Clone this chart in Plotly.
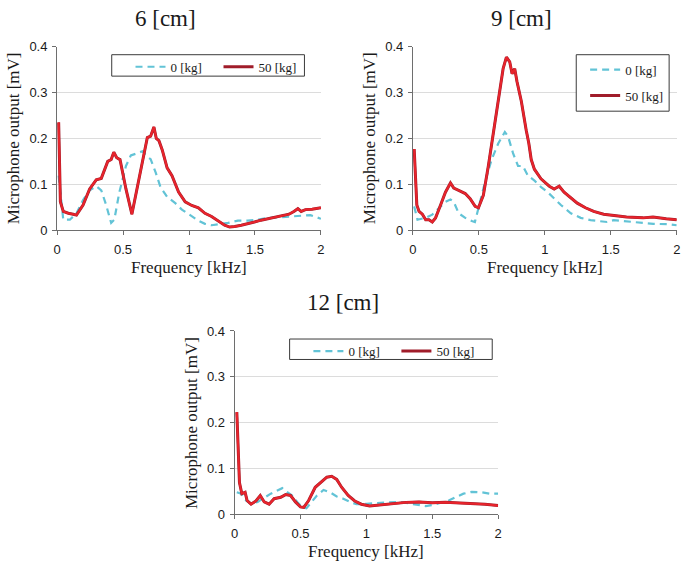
import plotly.graph_objects as go

W, H = 685, 570

# ---------------- data ----------------
titles = ["6 [cm]", "9 [cm]", "12 [cm]"]
legend_names = ["0 [kg]", "50 [kg]"]
x_title = "Frequency [kHz]"
y_title = "Microphone output [mV]"

f6_0 = [0.012, 0.047, 0.097, 0.147, 0.197, 0.247, 0.297, 0.335, 0.372, 0.41, 0.434, 0.472, 0.522, 0.559, 0.609, 0.647, 0.684, 0.709, 0.747, 0.784, 0.834, 0.896, 0.946, 1.009, 1.071, 1.121, 1.171, 1.221, 1.296, 1.371, 1.446, 1.52, 1.596, 1.67, 1.77, 1.87, 1.92, 2.0]
v6_0 = [0.119, 0.023, 0.023, 0.037, 0.066, 0.087, 0.096, 0.087, 0.055, 0.016, 0.023, 0.083, 0.140, 0.163, 0.168, 0.172, 0.160, 0.155, 0.126, 0.094, 0.073, 0.059, 0.045, 0.032, 0.021, 0.014, 0.011, 0.013, 0.016, 0.021, 0.021, 0.023, 0.027, 0.028, 0.030, 0.032, 0.033, 0.025]

f6_50 = [0.012, 0.025, 0.047, 0.085, 0.122, 0.147, 0.197, 0.247, 0.297, 0.335, 0.384, 0.41, 0.43, 0.452, 0.477, 0.522, 0.567, 0.609, 0.647, 0.684, 0.709, 0.734, 0.752, 0.772, 0.797, 0.834, 0.871, 0.921, 0.971, 1.021, 1.071, 1.121, 1.171, 1.221, 1.27, 1.308, 1.346, 1.396, 1.446, 1.496, 1.546, 1.596, 1.645, 1.695, 1.758, 1.795, 1.825, 1.85, 1.883, 1.933, 2.0]
v6_50 = [0.235, 0.062, 0.041, 0.037, 0.035, 0.033, 0.055, 0.090, 0.110, 0.113, 0.150, 0.154, 0.170, 0.158, 0.154, 0.090, 0.035, 0.098, 0.154, 0.202, 0.205, 0.225, 0.200, 0.195, 0.175, 0.136, 0.119, 0.083, 0.062, 0.054, 0.049, 0.037, 0.030, 0.021, 0.011, 0.007, 0.008, 0.011, 0.014, 0.018, 0.022, 0.025, 0.028, 0.032, 0.035, 0.041, 0.047, 0.041, 0.045, 0.046, 0.049]

f9_0 = [0.01, 0.035, 0.097, 0.147, 0.197, 0.247, 0.285, 0.31, 0.347, 0.397, 0.447, 0.47, 0.497, 0.547, 0.597, 0.647, 0.697, 0.722, 0.759, 0.797, 0.834, 0.872, 0.922, 0.972, 1.022, 1.072, 1.122, 1.197, 1.272, 1.347, 1.422, 1.472, 1.522, 1.597, 1.697, 1.822, 1.947, 2.0]
v9_0 = [0.052, 0.023, 0.027, 0.034, 0.048, 0.062, 0.067, 0.062, 0.037, 0.027, 0.020, 0.018, 0.048, 0.105, 0.154, 0.189, 0.214, 0.204, 0.168, 0.140, 0.140, 0.119, 0.108, 0.094, 0.083, 0.069, 0.055, 0.037, 0.027, 0.022, 0.020, 0.018, 0.022, 0.020, 0.016, 0.014, 0.013, 0.011]

f9_50 = [0.01, 0.03, 0.047, 0.072, 0.097, 0.122, 0.147, 0.172, 0.21, 0.247, 0.285, 0.31, 0.347, 0.397, 0.434, 0.472, 0.497, 0.534, 0.572, 0.609, 0.647, 0.684, 0.709, 0.734, 0.752, 0.772, 0.789, 0.822, 0.859, 0.879, 0.897, 0.921, 0.971, 1.034, 1.071, 1.109, 1.146, 1.196, 1.246, 1.308, 1.371, 1.446, 1.52, 1.62, 1.745, 1.82, 1.92, 2.0]
v9_50 = [0.177, 0.055, 0.041, 0.035, 0.023, 0.023, 0.018, 0.027, 0.055, 0.083, 0.103, 0.092, 0.087, 0.080, 0.069, 0.052, 0.049, 0.076, 0.140, 0.211, 0.281, 0.352, 0.377, 0.367, 0.341, 0.352, 0.324, 0.281, 0.218, 0.189, 0.154, 0.133, 0.112, 0.096, 0.090, 0.096, 0.083, 0.071, 0.059, 0.049, 0.041, 0.035, 0.032, 0.029, 0.027, 0.029, 0.025, 0.023]

f12_0 = [0.017, 0.05, 0.087, 0.125, 0.175, 0.225, 0.275, 0.325, 0.362, 0.4, 0.437, 0.475, 0.512, 0.545, 0.575, 0.625, 0.675, 0.725, 0.775, 0.825, 0.875, 0.925, 1.0, 1.075, 1.15, 1.25, 1.35, 1.45, 1.5, 1.562, 1.625, 1.675, 1.737, 1.8, 1.875, 1.937, 2.0]
v12_0 = [0.048, 0.045, 0.030, 0.023, 0.027, 0.037, 0.045, 0.052, 0.057, 0.048, 0.041, 0.027, 0.016, 0.013, 0.023, 0.041, 0.053, 0.048, 0.039, 0.034, 0.027, 0.022, 0.023, 0.025, 0.026, 0.027, 0.022, 0.018, 0.020, 0.025, 0.030, 0.037, 0.045, 0.049, 0.048, 0.045, 0.045]

f12_50 = [0.017, 0.03, 0.037, 0.055, 0.08, 0.095, 0.125, 0.162, 0.195, 0.225, 0.262, 0.3, 0.35, 0.387, 0.425, 0.462, 0.5, 0.525, 0.562, 0.612, 0.65, 0.7, 0.737, 0.775, 0.812, 0.862, 0.912, 0.962, 1.025, 1.1, 1.2, 1.3, 1.4, 1.5, 1.6, 1.7, 1.8, 1.9, 2.0]
v12_50 = [0.223, 0.130, 0.069, 0.045, 0.048, 0.030, 0.022, 0.029, 0.041, 0.027, 0.022, 0.034, 0.037, 0.043, 0.041, 0.027, 0.016, 0.015, 0.030, 0.059, 0.069, 0.081, 0.083, 0.076, 0.059, 0.041, 0.029, 0.022, 0.018, 0.020, 0.023, 0.026, 0.027, 0.025, 0.026, 0.025, 0.023, 0.022, 0.019]

x_ticks = [0, 0.5, 1, 1.5, 2]
x_tick_text = ["0", "0.5", "1", "1.5", "2"]
y_ticks = [0, 0.1, 0.2, 0.3, 0.4]
y_tick_text = ["0", "0.1", "0.2", "0.3", "0.4"]

# ---------------- styling / layout ----------------
FONT = "Liberation Serif"
TICKFONT = "Liberation Sans"
TXT = "#1a1a1a"
CYAN = "#62c3d6"
RED = "#e8242c"
DARKRED = "#a01c2a"


def px(x):
    return x / W


def py(y):
    return 1 - y / H


# plot areas in pixel coords: (left, right, top, bottom)
areas = [(53.7, 320.7, 40.7, 229.3), (413.7, 680.7, 40.7, 229.3), (233.3, 500.0, 332.7, 521.0)]
series = [(f6_0, v6_0, f6_50, v6_50), (f9_0, v9_0, f9_50, v9_50), (f12_0, v12_0, f12_50, v12_50)]
legend_ids = ["legend", "legend2", "legend3"]
# legend frame boxes (left, top, right, bottom) in px
legend_boxes = [(109, 49, 304, 71), (579, 49, 673, 107), (289, 341, 494, 362)]

fig = go.Figure()
layout = dict(
    width=W, height=H, margin=dict(l=0, r=0, t=0, b=0),
    paper_bgcolor="white", plot_bgcolor="white",
    font=dict(family=FONT, color=TXT),
    annotations=[], shapes=[],
)

for i, ((l, r, t, b), (fa, va, fb, vb)) in enumerate(zip(areas, series)):
    n = "" if i == 0 else str(i + 1)
    xa, ya = "x" + n, "y" + n
    fig.add_trace(go.Scatter(x=fa, y=va, mode="lines", name=legend_names[0],
                             line=dict(color=CYAN, width=2.2, dash="7px,5px"),
                             xaxis=xa, yaxis=ya, legend=legend_ids[i], legendgroup="a" + n))
    # 50 kg: dark red edge with bright red core
    fig.add_trace(go.Scatter(x=fb, y=vb, mode="lines", name=legend_names[1],
                             line=dict(color=DARKRED, width=3.0),
                             xaxis=xa, yaxis=ya, legend=legend_ids[i], legendgroup="b" + n))
    fig.add_trace(go.Scatter(x=fb, y=vb, mode="lines", name=legend_names[1], showlegend=False,
                             line=dict(color=RED, width=2.1), hoverinfo="skip",
                             xaxis=xa, yaxis=ya, legend=legend_ids[i], legendgroup="b" + n))
    layout["xaxis" + n] = dict(
        domain=[px(l), px(r)], anchor=ya, range=[0, 2], tickvals=x_ticks, ticktext=x_tick_text,
        showgrid=False, showline=True, linecolor="#6e6e6e", linewidth=1,
        ticks="outside", ticklen=4, tickcolor="#6e6e6e", zeroline=False, ticklabelstandoff=3,
        tickfont=dict(family=TICKFONT, size=13, color=TXT),
    )
    layout["yaxis" + n] = dict(
        domain=[py(b), py(t)], anchor=xa, range=[0, 0.4], tickvals=y_ticks, ticktext=y_tick_text,
        showgrid=True, gridcolor="#dcdcdc", gridwidth=1, showline=True, linecolor="#6e6e6e",
        linewidth=1, ticks="outside", ticklen=4, tickcolor="#6e6e6e", zeroline=False, ticklabelstandoff=2,
        tickfont=dict(family=TICKFONT, size=13, color=TXT),
    )
    cx = (l + r) / 2
    layout["annotations"].append(dict(text=titles[i], x=px(cx - 24), y=py(t - 29), xref="paper", yref="paper",
                                      showarrow=False, xanchor="center", yanchor="middle",
                                      font=dict(family=FONT, size=23, color=TXT)))
    layout["annotations"].append(dict(text=x_title, x=px(cx), y=py(b + 38.5), xref="paper", yref="paper",
                                      showarrow=False, xanchor="center", yanchor="middle",
                                      font=dict(family=FONT, size=17, color=TXT)))
    layout["annotations"].append(dict(text=y_title, x=px(l - 43.7), y=py((t + b) / 2), xref="paper", yref="paper",
                                      showarrow=False, xanchor="center", yanchor="middle", textangle=-90,
                                      font=dict(family=FONT, size=17, color=TXT)))
    bl, bt, br, bb = legend_boxes[i]
    layout["shapes"].append(dict(type="rect", xref="paper", yref="paper",
                                 x0=px(bl), x1=px(br), y0=py(bb), y1=py(bt),
                                 line=dict(color="#3a3a3a", width=1), fillcolor="white", layer="above"))

legend_common = dict(bgcolor="rgba(0,0,0,0)", borderwidth=0,
                     font=dict(family=FONT, size=13, color=TXT),
                     xanchor="left", yanchor="top")
layout["legend"] = dict(legend_common, x=px(128), y=py(46), orientation="h", entrywidth=43)
layout["legend2"] = dict(legend_common, x=px(588), y=py(49), orientation="v", tracegroupgap=6)
layout["legend3"] = dict(legend_common, x=px(308), y=py(338), orientation="h", entrywidth=43)

fig.update_layout(**layout)
fig.write_html("out.html", config={"displayModeBar": False},
               post_script="document.body.style.margin='0';")
